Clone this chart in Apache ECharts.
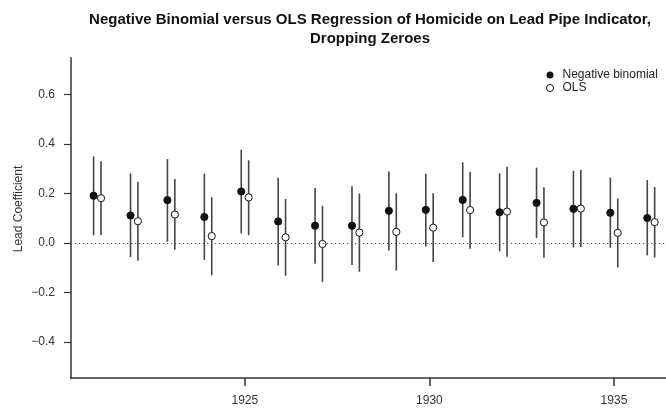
<!DOCTYPE html>
<html>
<head>
<meta charset="utf-8">
<script src="https://cdn.jsdelivr.net/npm/echarts@6/dist/echarts.min.js"></script>
<style>
    html, body { margin: 0; padding: 0; background: #fff; }
    #chart { width: 666px; height: 410px; }
</style>
</head>
<body>
<div id="chart"></div>
<script>
    // values
    var years = [1921, 1922, 1923, 1924, 1925, 1926, 1927, 1928, 1929, 1930, 1931, 1932, 1933, 1934, 1935, 1936];

    var nbEst = [0.191, 0.111, 0.173, 0.105, 0.208, 0.087, 0.070, 0.070, 0.130, 0.134, 0.174, 0.124, 0.162, 0.138, 0.122, 0.101];
    var nbLo  = [0.031, -0.057, 0.005, -0.068, 0.039, -0.091, -0.084, -0.089, -0.030, -0.014, 0.023, -0.034, 0.020, -0.018, -0.019, -0.050];
    var nbHi  = [0.350, 0.281, 0.339, 0.280, 0.377, 0.264, 0.222, 0.229, 0.289, 0.280, 0.326, 0.281, 0.304, 0.292, 0.264, 0.254];

    var olsEst = [0.181, 0.088, 0.115, 0.028, 0.184, 0.023, -0.004, 0.042, 0.045, 0.062, 0.133, 0.127, 0.083, 0.139, 0.041, 0.084];
    var olsLo  = [0.032, -0.072, -0.027, -0.130, 0.032, -0.132, -0.157, -0.116, -0.111, -0.077, -0.023, -0.055, -0.059, -0.016, -0.099, -0.058];
    var olsHi  = [0.330, 0.247, 0.258, 0.185, 0.334, 0.178, 0.150, 0.200, 0.201, 0.201, 0.288, 0.308, 0.225, 0.295, 0.180, 0.226];

    var yTicks = [-0.4, -0.2, 0, 0.2, 0.4, 0.6];
    var xTicks = [1925, 1930, 1935];

    function rows(est, lo, hi) {
        return years.map(function (y, i) { return [y, est[i], lo[i], hi[i]]; });
    }

    function makeRender(dx, filled) {
        return function (params, api) {
            var p = api.coord([api.value(0), api.value(1)]);
            var lo = api.coord([api.value(0), api.value(2)]);
            var hi = api.coord([api.value(0), api.value(3)]);
            return {
                type: 'group',
                children: [
                    {
                        type: 'line',
                        shape: { x1: p[0] + dx, y1: lo[1], x2: p[0] + dx, y2: hi[1] },
                        style: { stroke: '#444', lineWidth: 1.6 }
                    },
                    {
                        type: 'circle',
                        shape: { cx: p[0] + dx, cy: p[1], r: 3.6 },
                        style: { fill: filled ? '#111' : '#fff', stroke: '#111', lineWidth: 1 }
                    }
                ]
            };
        };
    }

    var chart = echarts.init(document.getElementById('chart'), null, { renderer: 'canvas' });
    var font = 'Liberation Sans, Arial, sans-serif';

    chart.setOption({
        animation: false,
        textStyle: { fontFamily: font },
        title: {
            text: 'Negative Binomial versus OLS Regression of Homicide on Lead Pipe Indicator,\nDropping Zeroes',
            left: 370,
            top: 10,
            padding: 0,
            textAlign: 'center',
            textStyle: { fontSize: 15, fontWeight: 'bold', color: '#111', lineHeight: 19, fontFamily: font }
        },
        legend: {
            orient: 'vertical',
            left: 546,
            top: 69,
            padding: 0,
            itemWidth: 7,
            itemHeight: 7,
            itemGap: 1,
            textStyle: { fontSize: 12, color: '#222', lineHeight: 12, padding: [0, 0, 0, 4], fontFamily: font },
            data: [
                { name: 'Negative binomial', icon: 'circle', itemStyle: { color: '#111', borderWidth: 0 } },
                { name: 'OLS', icon: 'circle', itemStyle: { color: '#fff', borderColor: '#111', borderWidth: 1 } }
            ]
        },
        grid: { left: 71, right: 0, top: 58, bottom: 32 },
        xAxis: {
            type: 'value',
            min: 1920.29,
            max: 1936.41,
            splitLine: { show: false },
            axisLine: { show: true, onZero: false, lineStyle: { color: '#333', width: 1.5 } },
            axisTick: { show: true, length: 8, customValues: xTicks, lineStyle: { color: '#333', width: 1.5 } },
            axisLabel: {
                customValues: xTicks,
                margin: 17,
                fontSize: 12,
                color: '#333',
                formatter: function (v) { return String(v); }
            }
        },
        yAxis: {
            type: 'value',
            min: -0.545,
            max: 0.747,
            splitLine: { show: false },
            axisLine: { show: true, onZero: false, lineStyle: { color: '#555', width: 1.8 } },
            axisTick: { show: true, length: 7, customValues: yTicks, lineStyle: { color: '#333', width: 1.2 } },
            axisLabel: {
                customValues: yTicks,
                margin: 16,
                fontSize: 12,
                color: '#333',
                formatter: function (v) {
                    var r = Math.round(v * 10) / 10;
                    return (r < 0 ? '\u2212' : '') + Math.abs(r).toFixed(1);
                }
            }
        },
        graphic: [
            {
                type: 'text',
                x: 19,
                y: 209,
                rotation: Math.PI / 2,
                style: {
                    text: 'Lead Coefficient',
                    fontSize: 12,
                    fontFamily: font,
                    fill: '#333',
                    textAlign: 'center',
                    textVerticalAlign: 'middle'
                }
            }
        ],
        series: [
            {
                name: 'Negative binomial',
                type: 'custom',
                renderItem: makeRender(-3.6, true),
                data: rows(nbEst, nbLo, nbHi),
                encode: { x: 0, y: [1, 2, 3] },
                z: 3,
                markLine: {
                    silent: true,
                    symbol: 'none',
                    label: { show: false },
                    lineStyle: { color: '#555', type: [1.2, 2.8], width: 1.2 },
                    data: [{ yAxis: 0 }]
                }
            },
            {
                name: 'OLS',
                type: 'custom',
                renderItem: makeRender(3.8, false),
                data: rows(olsEst, olsLo, olsHi),
                encode: { x: 0, y: [1, 2, 3] },
                z: 3
            }
        ]
    });
</script>
</body>
</html>
